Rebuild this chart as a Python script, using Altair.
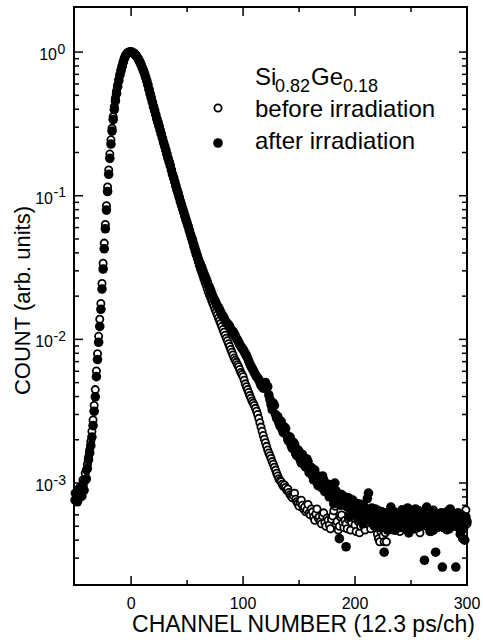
import altair as alt
import pandas as pd

# ---------------- data ----------------
channels = list(range(-50, 301))   # channel numbers, one point per channel

after_counts = [
    0.00076, 0.00085, 0.00074, 0.00087, 0.00079, 0.00091, 0.00081, 0.00095, 0.00089, 0.00105,  # -50
    0.00107, 0.00126, 0.00145, 0.00162, 0.00182, 0.00209, 0.00251, 0.00316, 0.00398, 0.00550,  # -40
    0.00724, 0.00955, 0.0123, 0.0162, 0.0224, 0.0309, 0.0427, 0.0589, 0.0794, 0.107,          # -30
    0.141, 0.182, 0.229, 0.282, 0.339, 0.398, 0.457, 0.513, 0.575, 0.631,                     # -20
    0.692, 0.741, 0.794, 0.851, 0.902, 0.940, 0.968, 0.986, 0.995, 1.0,                       # -10
    1.0, 0.995, 0.986, 0.973, 0.955, 0.933, 0.908, 0.879, 0.847, 0.813,                       # 0
    0.776, 0.742, 0.708, 0.668, 0.631, 0.592, 0.550, 0.512, 0.479, 0.448,                     # 10
    0.417, 0.392, 0.367, 0.343, 0.324, 0.305, 0.285, 0.268, 0.251, 0.235,                     # 20
    0.221, 0.208, 0.195, 0.182, 0.172, 0.162, 0.151, 0.141, 0.133, 0.125,                     # 30
    0.117, 0.110, 0.104, 0.0975, 0.0912, 0.0862, 0.0813, 0.0770, 0.0724, 0.0682,              # 40
    0.0646, 0.0612, 0.0575, 0.0541, 0.0513, 0.0486, 0.0457, 0.0430, 0.0407, 0.0386,           # 50
    0.0363, 0.0345, 0.0331, 0.0318, 0.0302, 0.0287, 0.0275, 0.0264, 0.0251, 0.0239,           # 60
    0.0229, 0.0220, 0.0209, 0.0199, 0.0191, 0.0185, 0.0178, 0.0171, 0.0166, 0.0161,           # 70
    0.0155, 0.0149, 0.0145, 0.0141, 0.0135, 0.0131, 0.0129, 0.0126, 0.0123, 0.0118,           # 80
    0.0115, 0.0113, 0.0110, 0.0106, 0.0102, 0.00990, 0.00955, 0.00921, 0.00891, 0.00871,      # 90
    0.00851, 0.00822, 0.00794, 0.00770, 0.00741, 0.00708, 0.00676, 0.00652, 0.00631, 0.00610, # 100
    0.00589, 0.00570, 0.00550, 0.00540, 0.00525, 0.00500, 0.00479, 0.00470, 0.00457, 0.00490, # 110
    0.00501, 0.00455, 0.00468, 0.00410, 0.00380, 0.00350, 0.00324, 0.00360, 0.00347, 0.00300, # 120
    0.00282, 0.00290, 0.00263, 0.00250, 0.00269, 0.00235, 0.00224, 0.00245, 0.00240, 0.00215, # 130
    0.00200, 0.00195, 0.00209, 0.00182, 0.00174, 0.00192, 0.00186, 0.00160, 0.00155, 0.00170, # 140
    0.00166, 0.00145, 0.00138, 0.00158, 0.00151, 0.00132, 0.00129, 0.00147, 0.00141, 0.00118, # 150
    0.00120, 0.00128, 0.00112, 0.00105, 0.00123, 0.00115, 0.00102, 0.00096, 0.00110, 0.00100, # 160
    0.00093, 0.00112, 0.00105, 0.00087, 0.00089, 0.00094, 0.00098, 0.00080, 0.00083, 0.00097, # 170
    0.00091, 0.00072, 0.00100, 0.00088, 0.00076, 0.00084, 0.00041, 0.00070, 0.00083, 0.00075, # 180
    0.00071, 0.00080, 0.00036, 0.00068, 0.00079, 0.00058, 0.00066, 0.00074, 0.00076, 0.00061, # 190
    0.00062, 0.00070, 0.00072, 0.00056, 0.00065, 0.00071, 0.00059, 0.00052, 0.00069, 0.00063, # 200
    0.00055, 0.00078, 0.00085, 0.00057, 0.00060, 0.00067, 0.00052, 0.00061, 0.00066, 0.00050, # 210
    0.00056, 0.00064, 0.00049, 0.00059, 0.00063, 0.00053, 0.00033, 0.00062, 0.00058, 0.00047, # 220
    0.00051, 0.00060, 0.00068, 0.00055, 0.00054, 0.00063, 0.00047, 0.00052, 0.00060, 0.00057, # 230
    0.00055, 0.00049, 0.00065, 0.00061, 0.00050, 0.00056, 0.00058, 0.00067, 0.00045, 0.00053, # 240
    0.00062, 0.00058, 0.00054, 0.00048, 0.00066, 0.00059, 0.00049, 0.00064, 0.00056, 0.00052, # 250
    0.00051, 0.00060, 0.00029, 0.00055, 0.00068, 0.00057, 0.00052, 0.00046, 0.00059, 0.00063, # 260
    0.00047, 0.00055, 0.00033, 0.00058, 0.00060, 0.00053, 0.00050, 0.00062, 0.00026, 0.00049, # 270
    0.00055, 0.00061, 0.00063, 0.00054, 0.00048, 0.00066, 0.00058, 0.00052, 0.00051, 0.00059, # 280
    0.00026, 0.00057, 0.00062, 0.00050, 0.00044, 0.00060, 0.00056, 0.00048, 0.00040, 0.00058, # 290
    0.00054,                                                                                   # 300
]

before_counts = [
    0.00085, 0.00079, 0.00089, 0.00081, 0.00093, 0.00087, 0.00095, 0.00105, 0.00102, 0.00117,  # -50
    0.00123, 0.00135, 0.00151, 0.00170, 0.00195, 0.00229, 0.00275, 0.00347, 0.00447, 0.00603,  # -40
    0.00794, 0.0105, 0.0138, 0.0178, 0.0245, 0.0339, 0.0468, 0.0631, 0.0851, 0.115,           # -30
    0.151, 0.195, 0.245, 0.295, 0.355, 0.417, 0.479, 0.537, 0.589, 0.646,                     # -20
    0.700, 0.750, 0.800, 0.857, 0.906, 0.944, 0.970, 0.989, 0.998, 1.0,                       # -10
    1.0, 0.995, 0.986, 0.973, 0.955, 0.933, 0.908, 0.879, 0.847, 0.813,                       # 0
    0.776, 0.742, 0.708, 0.668, 0.631, 0.592, 0.550, 0.512, 0.479, 0.448,                     # 10
    0.417, 0.392, 0.367, 0.343, 0.324, 0.305, 0.285, 0.268, 0.251, 0.235,                     # 20
    0.221, 0.208, 0.195, 0.182, 0.172, 0.162, 0.151, 0.141, 0.133, 0.125,                     # 30
    0.117, 0.110, 0.104, 0.0975, 0.0912, 0.0862, 0.0813, 0.0770, 0.0724, 0.0682,              # 40
    0.0646, 0.0608, 0.0569, 0.0535, 0.0501, 0.0472, 0.0442, 0.0414, 0.0389, 0.0369,           # 50
    0.0347, 0.0327, 0.0309, 0.0294, 0.0279, 0.0264, 0.0251, 0.0239, 0.0226, 0.0214,           # 60
    0.0204, 0.0196, 0.0186, 0.0178, 0.0170, 0.0162, 0.0155, 0.0148, 0.0141, 0.0135,           # 70
    0.0129, 0.0123, 0.0117, 0.0112, 0.0107, 0.0102, 0.00977, 0.00934, 0.00891, 0.00851,       # 80
    0.00813, 0.00778, 0.00741, 0.00717, 0.00692, 0.00667, 0.00646, 0.00617, 0.00589, 0.00570, # 90
    0.00550, 0.00520, 0.00490, 0.00468, 0.00447, 0.00427, 0.00407, 0.00390, 0.00372, 0.00360, # 100
    0.00347, 0.00331, 0.00316, 0.00300, 0.00282, 0.00263, 0.00245, 0.00229, 0.00214, 0.00202, # 110
    0.00191, 0.00180, 0.00170, 0.00162, 0.00155, 0.00148, 0.00141, 0.00135, 0.00129, 0.00123, # 120
    0.00117, 0.00112, 0.00107, 0.00104, 0.00102, 0.00098, 0.00095, 0.00097, 0.00093, 0.00089, # 130
    0.00091, 0.00086, 0.00083, 0.00081, 0.00079, 0.00082, 0.00085, 0.00077, 0.00074, 0.00072, # 140
    0.00069, 0.00073, 0.00076, 0.00070, 0.00066, 0.00068, 0.00063, 0.00065, 0.00071, 0.00062, # 150
    0.00060, 0.00066, 0.00063, 0.00058, 0.00055, 0.00061, 0.00066, 0.00057, 0.00058, 0.00054, # 160
    0.00052, 0.00059, 0.00062, 0.00053, 0.00050, 0.00057, 0.00055, 0.00051, 0.00048, 0.00056, # 170
    0.00059, 0.00064, 0.00069, 0.00052, 0.00054, 0.00047, 0.00050, 0.00058, 0.00060, 0.00053, # 180
    0.00049, 0.00055, 0.00052, 0.00048, 0.00056, 0.00061, 0.00047, 0.00053, 0.00063, 0.00057, # 190
    0.00051, 0.00046, 0.00058, 0.00054, 0.00045, 0.00050, 0.00060, 0.00056, 0.00050, 0.00047, # 200
    0.00055, 0.00061, 0.00065, 0.00052, 0.00048, 0.00057, 0.00054, 0.00050, 0.00059, 0.00053, # 210
    0.00044, 0.00041, 0.00039, 0.00046, 0.00050, 0.00043, 0.00039, 0.00045, 0.00039, 0.00048, # 220
    0.00052, 0.00055, 0.00058, 0.00050, 0.00047, 0.00053, 0.00062, 0.00057, 0.00051, 0.00049, # 230
    0.00046, 0.00052, 0.00056, 0.00059, 0.00060, 0.00054, 0.00049, 0.00053, 0.00054, 0.00058, # 240
    0.00063, 0.00051, 0.00048, 0.00056, 0.00055, 0.00050, 0.00059, 0.00047, 0.00045, 0.00054, # 250
    0.00052, 0.00058, 0.00060, 0.00053, 0.00050, 0.00055, 0.00056, 0.00049, 0.00046, 0.00052, # 260
    0.00065, 0.00057, 0.00054, 0.00050, 0.00049, 0.00055, 0.00058, 0.00053, 0.00051, 0.00057, # 270
    0.00060, 0.00052, 0.00047, 0.00054, 0.00055, 0.00061, 0.00063, 0.00051, 0.00050, 0.00056, # 280
    0.00056, 0.00053, 0.00049, 0.00055, 0.00058, 0.00052, 0.00041, 0.00045, 0.00060, 0.00065, # 290
    0.00052,                                                                                   # 300
]

x_tick_labels = [0, 100, 200, 300]
x_major_ticks = [0, 100, 200]
x_minor_ticks = [50, 150, 250]
y_decades = [1.0, 0.1, 0.01, 0.001]
y_exponents = ["0", "-1", "-2", "-3"]
y_minor_ticks = [
    0.0003, 0.0004, 0.0005, 0.0006, 0.0007, 0.0008, 0.0009,
    0.002, 0.003, 0.004, 0.005, 0.006, 0.007, 0.008, 0.009,
    0.02, 0.03, 0.04, 0.05, 0.06, 0.07, 0.08, 0.09,
    0.2, 0.3, 0.4, 0.5, 0.6, 0.7, 0.8, 0.9,
]
legend_labels = ["before irradiation", "after irradiation"]
sample_parts = ["Si", "0.82", "Ge", "0.18"]
x_title = "CHANNEL NUMBER (12.3 ps/ch)"
y_title = "COUNT (arb. units)"

# ---------------- chart ----------------
W, H = 393, 578
FONT = "Liberation Sans"

xs = alt.Scale(domain=[-51, 300], nice=False, zero=False)
ys = alt.Scale(type="log", domain=[0.000195, 2.06], nice=False)


def X(field="x"):
    return alt.X(f"{field}:Q", scale=xs, axis=None)


def Y(field="y"):
    return alt.Y(f"{field}:Q", scale=ys, axis=None)


before_df = pd.DataFrame({"x": channels, "y": before_counts})
after_df = pd.DataFrame({"x": channels, "y": after_counts})

open_style = dict(shape="circle", filled=True, fill="white", stroke="black",
                  strokeWidth=1.8, size=52, opacity=1)
filled_style = dict(shape="circle", filled=True, color="black", size=92, opacity=1)

open_pts = alt.Chart(before_df).mark_point(**open_style).encode(x=X(), y=Y())
filled_pts = alt.Chart(after_df).mark_point(**filled_style).encode(x=X(), y=Y())

tick = dict(color="black", strokeWidth=1.5)
xmaj = pd.DataFrame({"x": x_major_ticks})
xmin = pd.DataFrame({"x": x_minor_ticks})
ymaj = pd.DataFrame({"y": y_decades})
ymin = pd.DataFrame({"y": y_minor_ticks})

ticks = [
    alt.Chart(xmaj).mark_rule(**tick).encode(x=X(), y=alt.value(H), y2=alt.value(H - 9)),
    alt.Chart(xmaj).mark_rule(**tick).encode(x=X(), y=alt.value(0), y2=alt.value(9)),
    alt.Chart(xmin).mark_rule(**tick).encode(x=X(), y=alt.value(H), y2=alt.value(H - 5)),
    alt.Chart(xmin).mark_rule(**tick).encode(x=X(), y=alt.value(0), y2=alt.value(5)),
    alt.Chart(ymaj).mark_rule(**tick).encode(y=Y(), x=alt.value(0), x2=alt.value(9)),
    alt.Chart(ymaj).mark_rule(**tick).encode(y=Y(), x=alt.value(W), x2=alt.value(W - 8)),
    alt.Chart(ymin).mark_rule(**tick).encode(y=Y(), x=alt.value(0), x2=alt.value(5)),
    alt.Chart(ymin).mark_rule(**tick).encode(y=Y(), x=alt.value(W), x2=alt.value(W - 5)),
]

txt = dict(font=FONT, color="black")

x_labels = alt.Chart(pd.DataFrame({"x": x_tick_labels})).mark_text(
    fontSize=16, align="center", baseline="alphabetic", **txt
).encode(x=X(), y=alt.value(601.5), text=alt.Text("x:Q", format="d"))

ylab_df = pd.DataFrame({"y": y_decades, "e": y_exponents})
y_ten_0 = alt.Chart(ylab_df).transform_filter("datum.y == 1").mark_text(
    text="10", fontSize=16, align="right", baseline="alphabetic", dy=8, **txt
).encode(x=alt.value(-17), y=Y())
y_sup_0 = alt.Chart(ylab_df).transform_filter("datum.y == 1").mark_text(
    fontSize=14, align="left", baseline="alphabetic", dy=1.5, **txt
).encode(x=alt.value(-16.5), y=Y(), text="e:N")
y_ten_n = alt.Chart(ylab_df).transform_filter("datum.y < 1").mark_text(
    text="10", fontSize=16, align="right", baseline="alphabetic", dy=8, **txt
).encode(x=alt.value(-21), y=Y())
y_sup_n = alt.Chart(ylab_df).transform_filter("datum.y < 1").mark_text(
    fontSize=14, align="left", baseline="alphabetic", dy=1.5, **txt
).encode(x=alt.value(-20.5), y=Y(), text="e:N")

x_title_layer = alt.Chart(pd.DataFrame({"t": [x_title]})).mark_text(
    fontSize=23, align="center", baseline="alphabetic", **txt
).encode(x=alt.value(229.5), y=alt.value(625), text="t:N")
y_title_layer = alt.Chart(pd.DataFrame({"t": [y_title]})).mark_text(
    fontSize=22, align="center", baseline="alphabetic", angle=270, **txt
).encode(x=alt.value(-44), y=alt.value(293.5), text="t:N")

leg_open = alt.Chart(pd.DataFrame({"t": [legend_labels[0]]})).mark_point(**open_style).encode(
    x=alt.value(144), y=alt.value(101))
leg_filled = alt.Chart(pd.DataFrame({"t": [legend_labels[1]]})).mark_point(**filled_style).encode(
    x=alt.value(144), y=alt.value(136))
leg_text_1 = alt.Chart(pd.DataFrame({"t": [legend_labels[0]]})).mark_text(
    fontSize=24, align="left", baseline="alphabetic", **txt
).encode(x=alt.value(181), y=alt.value(110), text="t:N")
leg_text_2 = alt.Chart(pd.DataFrame({"t": [legend_labels[1]]})).mark_text(
    fontSize=24, align="left", baseline="alphabetic", **txt
).encode(x=alt.value(181), y=alt.value(142), text="t:N")

sample_pos = [(181, 78, 24), (201, 85, 18), (237, 78, 24), (269, 85, 18)]
sample_layers = []
for part, (px, py, fs) in zip(sample_parts, sample_pos):
    sample_layers.append(
        alt.Chart(pd.DataFrame({"t": [part]})).mark_text(
            fontSize=fs, align="left", baseline="alphabetic", **txt
        ).encode(x=alt.value(px), y=alt.value(py), text="t:N")
    )

chart = alt.layer(
    open_pts, filled_pts, *ticks, x_labels,
    y_ten_0, y_sup_0, y_ten_n, y_sup_n,
    x_title_layer, y_title_layer,
    leg_open, leg_filled, leg_text_1, leg_text_2, *sample_layers,
).properties(
    width=W, height=H,
    autosize=alt.AutoSizeParams(type="none"),
    padding={"left": 74, "top": 7, "right": 16, "bottom": 55},
    background="white",
).configure_view(stroke="black", strokeWidth=2)

chart.save("out.html", embed_options={"renderer": "svg", "actions": False})
